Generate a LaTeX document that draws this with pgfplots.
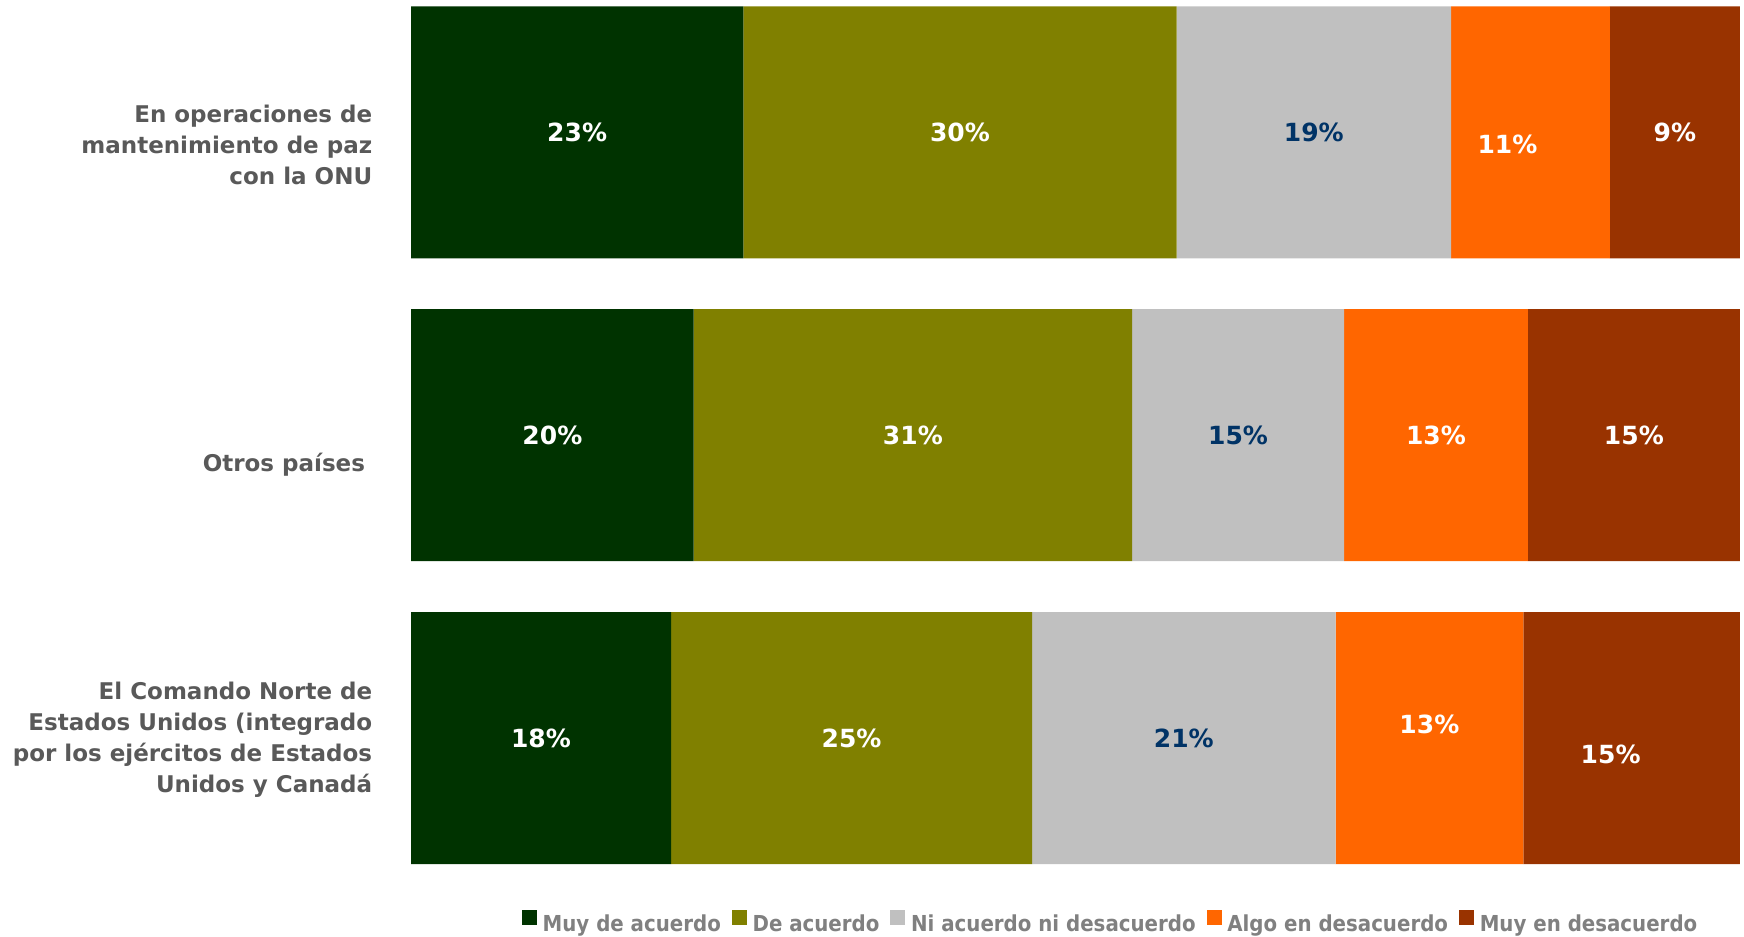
\documentclass[border=0pt]{standalone}
\usepackage{fontspec}
\setmainfont{DejaVu Sans}
\newfontfamily\condfont{DejaVu Sans Condensed}
\usepackage{pgfplots}
\usepackage{pgfplotstable}
\pgfplotsset{compat=1.18}

\definecolor{cA}{HTML}{003300}
\definecolor{cB}{HTML}{808000}
\definecolor{cC}{HTML}{C0C0C0}
\definecolor{cD}{HTML}{FF6600}
\definecolor{cE}{HTML}{993300}
\definecolor{lblue}{HTML}{003366}
\definecolor{catgray}{HTML}{595959}
\definecolor{leggray}{HTML}{808080}

% y: category position, t: sum of the five shown answers (bars are drawn as 100%)
% oa..oe: vertical offset (bp) of each value label; ha..he: horizontal offset (bp)
\pgfplotstableread{
y t a b c d e oa ob oc od oe ha hb hc hd he
2 92 23 30 19 11 9 0 0 0 -6 0 0 0 0 -11.5 0
1 94 20 31 15 13 15 0 0 0 0 0 0 0 0 0 0
0 92 18 25 21 13 15 0 0 0 6.75 -8 0 0 0 0 -10.5
}\data

\pgfplotsset{
 seg/.style n args={3}{
   fill=#2, draw=none,
   point meta=explicit,
   visualization depends on={\thisrow{o#1} \as \dy},
   visualization depends on={\thisrow{h#1} \as \dx},
   nodes near coords={\pgfmathprintnumber[fixed,precision=0,assume math mode=true]{\pgfplotspointmeta}\%},
   every node near coord/.style={anchor=center, inner sep=0pt, text=#3,
     font=\fontsize{12.5bp}{15bp}\selectfont\bfseries,
     yshift={\dy*1bp}, xshift={\dx*1bp}},
 },
}

\begin{document}
\begin{tikzpicture}
\useasboundingbox (0,0) rectangle (872bp,468.5bp);
\begin{axis}[
  at={(205.5bp,0)}, anchor=south west,
  scale only axis, width=664.5bp, height=468.5bp,
  xmin=0, xmax=100, ymin=-0.657, ymax=2.437,
  xbar stacked, bar width=126bp,
  axis line style={draw=none},
  xtick=\empty,
  ytick={-0.007,0.901,1.957},
  yticklabels={{El Comando Norte de\\Estados Unidos (integrado\\por los ejércitos de Estados\\Unidos y Canadá},
               {Otros países\hspace*{3.6bp}},
               {En operaciones de\\mantenimiento de paz\\con la ONU}},
  major tick length=0pt,
  yticklabel style={anchor=east, align=right, inner sep=0pt, xshift=-19.2bp, text=catgray,
     font=\fontsize{11.5bp}{15.5bp}\selectfont\bfseries},
  clip=false,
  legend columns=5,
  legend style={at={(0.0835,0.0023)}, anchor=south west, draw=none, fill=none,
     inner sep=0pt, outer sep=0pt,
     nodes={inner sep=0pt, text=leggray, font=\condfont\fontsize{11bp}{13bp}\selectfont\bfseries},
     /tikz/every odd column/.append style={column sep=2.85bp},
     /tikz/every even column/.append style={column sep=5.5bp}},
  legend image code/.code={\fill[#1] (0bp,0bp) rectangle (7.5bp,7.5bp);},
]
\addplot[seg={a}{cA}{white}] table[x expr=\thisrow{a}/\thisrow{t}*100, y=y, meta=a] {\data};
\addlegendentry{Muy de acuerdo}
\addplot[seg={b}{cB}{white}] table[x expr=\thisrow{b}/\thisrow{t}*100, y=y, meta=b] {\data};
\addlegendentry{De acuerdo}
\addplot[seg={c}{cC}{lblue}] table[x expr=\thisrow{c}/\thisrow{t}*100, y=y, meta=c] {\data};
\addlegendentry{Ni acuerdo ni desacuerdo}
\addplot[seg={d}{cD}{white}] table[x expr=\thisrow{d}/\thisrow{t}*100, y=y, meta=d] {\data};
\addlegendentry{Algo en desacuerdo}
\addplot[seg={e}{cE}{white}] table[x expr=\thisrow{e}/\thisrow{t}*100, y=y, meta=e] {\data};
\addlegendentry{Muy en desacuerdo}
\end{axis}
\end{tikzpicture}
\end{document}
